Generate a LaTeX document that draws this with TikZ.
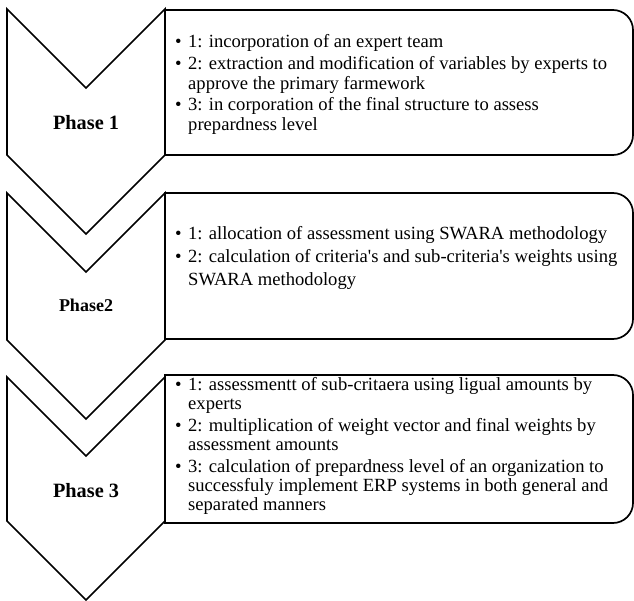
\documentclass[tikz,border=0pt]{standalone}
\usepackage{fontspec}
\setmainfont{Liberation Serif}[Ligatures=TeXOff]
\begin{document}
\newcommand\bul{\makebox[13pt][l]{\textbullet}}
\newcommand\ind{\hspace*{13pt}}
\begin{tikzpicture}[x=1pt,y=-1pt,
  outline/.style={draw=black,line width=1.7pt,line join=miter},
  phase/.style={font=\bfseries\fontsize{20.3}{23}\selectfont,inner sep=0pt,anchor=base},
  steps/.style={inner sep=0pt,anchor=base west,align=left}]
\useasboundingbox (0,0) rectangle (634,601);

% chevron arrows (half width 79, notch depth 79)
\draw[outline] (7,9) -- (86,88) -- (165,9) -- (165,155) -- (86,234) -- (7,155) -- cycle;
\draw[outline] (7,193) -- (86,272) -- (165,193) -- (165,340) -- (86,419) -- (7,340) -- cycle;
\draw[outline] (7,377) -- (86,456) -- (165,377) -- (165,521) -- (86,600) -- (7,521) -- cycle;

% step boxes, rounded on the right side
\draw[outline] (165,10) [rounded corners=20pt] -- (633,10) -- (633,155) [sharp corners] -- (165,155) -- cycle;
\draw[outline] (165,193) [rounded corners=20pt] -- (633,193) -- (633,339) [sharp corners] -- (165,339) -- cycle;
\draw[outline] (165,375) [rounded corners=20pt] -- (633,375) -- (633,523) [sharp corners] -- (165,523) -- cycle;

% phase labels
\node[phase] (p1) at (86,130) {Phase 1};
\node[phase,font=\bfseries\fontsize{18}{21}\selectfont] (p2) at (86,312) {Phase2};
\node[phase] (p3) at (86,497) {Phase 3};

% step lists
\node[steps] (s1) at (175,47.7) {\parbox[t]{450pt}{\fontsize{18.6}{20}\selectfont
\bul 1: incorporation of an expert team\\[1.5pt]
\bul 2: extraction and modification of variables by experts to\\
\ind approve the primary farmework\\[1.5pt]
\bul 3: in corporation of the final structure to assess\\
\ind prepardness level}};

\node[steps] (s2) at (175,240) {\parbox[t]{450pt}{\fontsize{18.6}{23}\selectfont
\bul 1: allocation of assessment using SWARA methodology\\
\bul 2: calculation of criteria's and sub-criteria's weights using\\
\ind SWARA methodology}};

\node[steps] (s3) at (175,390) {\parbox[t]{450pt}{\fontsize{18.6}{19.3}\selectfont
\bul 1: assessmentt of sub-critaera using ligual amounts by\\
\ind experts\\[2.4pt]
\bul 2: multiplication of weight vector and final weights by\\
\ind assessment amounts\\[2.4pt]
\bul 3: calculation of prepardness level of an organization to\\
\ind successfuly implement ERP systems in both general and\\
\ind separated manners}};
\end{tikzpicture}
\end{document}
